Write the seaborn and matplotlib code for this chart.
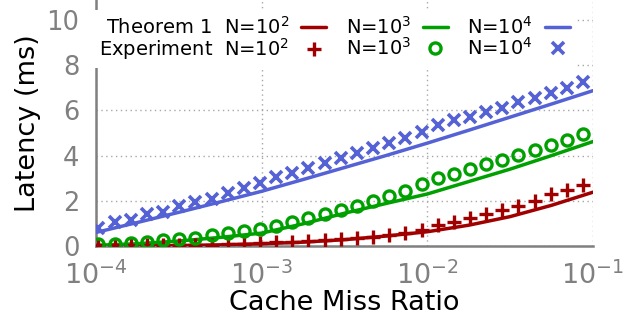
import matplotlib
matplotlib.use("Agg")
import matplotlib.pyplot as plt
import seaborn as sns
import pandas as pd

# ---------------- data ----------------
miss_exp = [1.035e-4, 1.296e-4, 1.622e-4, 2.030e-4, 2.541e-4, 3.181e-4, 3.981e-4,
            4.983e-4, 6.237e-4, 7.807e-4, 9.772e-4, 1.223e-3, 1.531e-3, 1.917e-3,
            2.399e-3, 3.003e-3, 3.758e-3, 4.704e-3, 5.888e-3, 7.370e-3, 9.226e-3,
            1.155e-2, 1.445e-2, 1.809e-2, 2.265e-2, 2.835e-2, 3.548e-2, 4.441e-2,
            5.559e-2, 6.959e-2, 8.710e-2]
exp_n2 = [0.03, 0.03, 0.03, 0.03, 0.04, 0.04, 0.05, 0.06, 0.07, 0.09, 0.12,
          0.17, 0.19, 0.23, 0.27, 0.30, 0.35, 0.41, 0.49, 0.56, 0.71,
          0.93, 1.08, 1.23, 1.40, 1.59, 1.78, 2.00, 2.30, 2.48, 2.68]
exp_n3 = [0.07, 0.07, 0.13, 0.19, 0.25, 0.30, 0.36, 0.49, 0.56, 0.67, 0.77,
          0.90, 1.08, 1.25, 1.40, 1.58, 1.78, 2.00, 2.20, 2.45, 2.75,
          3.00, 3.20, 3.42, 3.63, 3.82, 4.03, 4.25, 4.45, 4.70, 4.97]
exp_n4 = [0.80, 1.05, 1.15, 1.40, 1.52, 1.78, 1.95, 2.10, 2.33, 2.55, 2.80,
          3.05, 3.23, 3.45, 3.67, 3.90, 4.10, 4.33, 4.56, 4.78, 5.05,
          5.35, 5.58, 5.72, 5.93, 6.12, 6.37, 6.55, 6.77, 7.00, 7.25]

miss_thr = [1.0e-4, 1.778e-4, 3.162e-4, 5.623e-4, 1.0e-3, 1.778e-3, 3.162e-3,
            5.623e-3, 1.0e-2, 1.778e-2, 3.162e-2, 5.623e-2, 1.0e-1]
thr_n2 = [0.00, 0.01, 0.02, 0.05, 0.10, 0.17, 0.28, 0.44, 0.63, 0.92, 1.30, 1.80, 2.38]
thr_n3 = [0.03, 0.10, 0.22, 0.38, 0.57, 0.98, 1.45, 1.88, 2.30, 2.85, 3.40, 4.00, 4.62]
thr_n4 = [0.60, 1.04, 1.49, 1.95, 2.42, 2.94, 3.47, 4.00, 4.55, 5.12, 5.70, 6.28, 6.87]

series_labels = ["N=$10^2$", "N=$10^3$", "N=$10^4$"]
x_ticks = [1e-4, 1e-3, 1e-2, 1e-1]
x_tick_labels = ["$10^{-4}$", "$10^{-3}$", "$10^{-2}$", "$10^{-1}$"]
y_ticks = [0, 2, 4, 6, 8, 10]

colors = ["#a00000", "#00a000", "#5562d6"]
markers = ["+", "o", "x"]

# ---------------- plot ----------------
sns.set_theme(style="white")
plt.rcParams['font.family'] = ['DejaVu Sans']
plt.rcParams['text.color'] = 'black'
plt.rcParams['axes.labelcolor'] = 'black'

fig = plt.figure(figsize=(6.41, 3.21), dpi=100)
ax = fig.add_axes([96 / 641, 1 - 246 / 321, 497 / 641, 246 / 321])

thr_sets = [thr_n2, thr_n3, thr_n4]
exp_sets = [exp_n2, exp_n3, exp_n4]

for i in range(3):
    df = pd.DataFrame({"x": miss_thr, "y": thr_sets[i]})
    sns.lineplot(data=df, x="x", y="y", ax=ax, color=colors[i], linewidth=2.5,
                 label=series_labels[i], zorder=3)
for i in range(3):
    df = pd.DataFrame({"x": miss_exp, "y": exp_sets[i]})
    kw = dict(markeredgecolor=colors[i], markeredgewidth=2.4, markersize=9)
    if markers[i] == "o":
        kw.update(markerfacecolor="none", markersize=8)
    if markers[i] == "x":
        kw.update(markersize=9, markeredgewidth=2.6)
    if markers[i] == "+":
        kw.update(markersize=10)
    sns.lineplot(data=df, x="x", y="y", ax=ax, color=colors[i], linestyle="",
                 marker=markers[i], label=series_labels[i], zorder=4, **kw)

ax.set_xscale("log")
ax.set_xlim(1e-4, 1e-1)
ax.set_ylim(0, 10.88)
ax.set_xticks(x_ticks)
ax.set_xticklabels(x_tick_labels)
ax.minorticks_off()
ax.set_yticks(y_ticks)

grey = "#808080"
ax.tick_params(axis="both", direction="in", length=9, width=1.5, color=grey,
               labelcolor=grey)
ax.tick_params(axis="y", labelsize=18.5, pad=12)
ax.tick_params(axis="x", labelsize=19.5, pad=11)
for s in ["top", "right"]:
    ax.spines[s].set_visible(False)
for s in ["left", "bottom"]:
    ax.spines[s].set_color(grey)
    ax.spines[s].set_linewidth(1.8)

ax.grid(True, color="#a8a8a8", linestyle=(0, (1, 2.5)), linewidth=1.0)
ax.set_axisbelow(True)

ax.set_xlabel("Cache Miss Ratio", fontsize=19.5, color="black", labelpad=0)
ax.set_ylabel("Latency (ms)", fontsize=19.5, color="black", labelpad=4)

handles, labels = ax.get_legend_handles_labels()
order = [0, 3, 1, 4, 2, 5]
hs = [handles[j] for j in order]
ls = ["Theorem 1  " + series_labels[0], "Experiment  " + series_labels[0],
      series_labels[1], series_labels[1], series_labels[2], series_labels[2]]
leg = ax.legend(hs, ls, ncol=3, markerfirst=False, loc="upper center",
                bbox_to_anchor=(0.48, 1.0), fontsize=14, frameon=True,
                framealpha=1.0, edgecolor="none", facecolor="white",
                handlelength=1.3, handletextpad=0.6, columnspacing=1.0,
                labelspacing=-0.05, borderpad=0.3, fancybox=False)
leg.set_zorder(5)

fig.savefig("out.png", dpi=100)
